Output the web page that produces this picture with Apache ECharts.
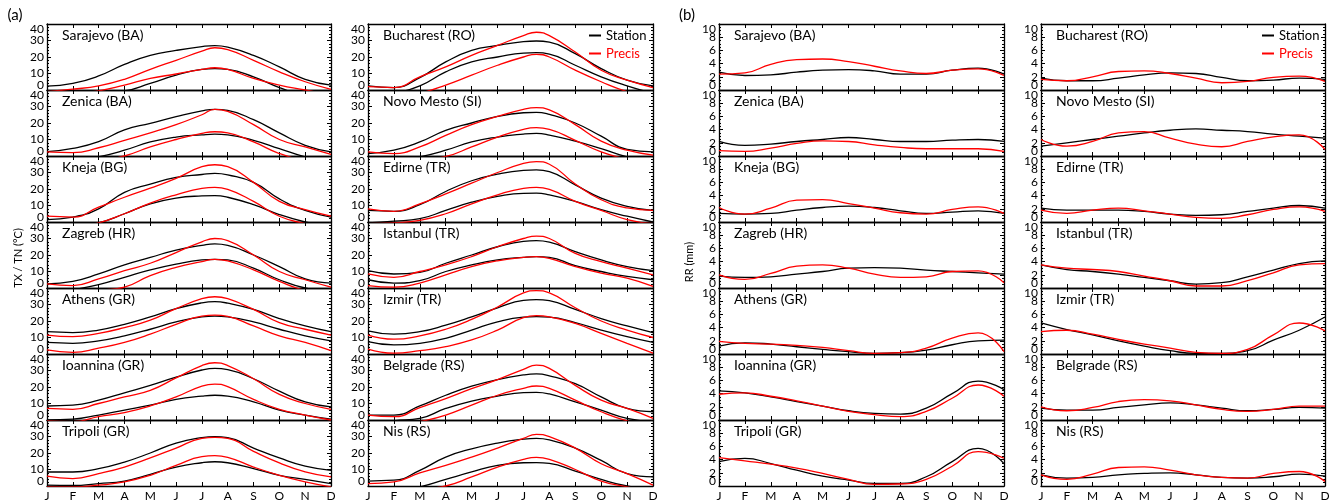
<!DOCTYPE html>
<html>
<head>
<meta charset="utf-8">
<script src="https://cdn.jsdelivr.net/npm/echarts@6/dist/echarts.min.js"></script>
<style>
html, body { margin: 0; padding: 0; background: #fff; }
#main { width: 1334px; height: 504px; }
</style>
</head>
<body>
<div id="main"></div>
<script>
const months = ['J', 'F', 'M', 'A', 'M', 'J', 'J', 'A', 'S', 'O', 'N', 'D'];
// temperature curves are read monthly plus the summer peak (late July)
const xTemp = [0, 1, 2, 3, 4, 5, 6, 6.5, 7, 8, 9, 10, 11];
const xRain = [0, 1, 2, 3, 4, 5, 6, 7, 8, 9, 10, 11];

// left column top->bottom, then right column top->bottom
const stations = ['Sarajevo (BA)', 'Zenica (BA)', 'Kneja (BG)', 'Zagreb (HR)', 'Athens (GR)', 'Ioannina (GR)', 'Tripoli (GR)',
  'Bucharest (RO)', 'Novo Mesto (SI)', 'Edirne (TR)', 'Istanbul (TR)', 'Izmir (TR)', 'Belgrade (RS)', 'Nis (RS)'];

// (a) max temperature, station
const txStation = [
  [2.4, 4, 8.5, 15.5, 21, 24, 26.3, 26.9, 26, 21, 14, 6.5, 3],
  [2.6, 4.6, 8.7, 15.8, 19.8, 23.8, 27.3, 28.3, 27.6, 22, 14, 6.5, 2.5],
  [1.5, 3, 8, 18, 23, 27, 28.8, 29.5, 28.6, 24, 14, 7, 3],
  [2.5, 4, 8.5, 14, 18.5, 23, 25.8, 26.7, 25.8, 20, 13, 5.5, 3],
  [13.5, 13, 14.5, 18, 22.5, 27.5, 31, 31.7, 30.8, 27, 21.5, 17, 13.5],
  [8.5, 9, 12, 16.5, 21, 26, 30.3, 31.3, 30.5, 25, 17.5, 11, 8],
  [8.5, 8.5, 10.5, 14.5, 20, 26, 29.3, 29.9, 29.3, 23, 17, 12, 9.5],
  [2.5, 1.5, 7.5, 17, 24, 27, 29.3, 29.7, 29, 22, 13, 6, 2.5],
  [1.5, 3.5, 8.5, 15.5, 20, 24, 26.2, 26.5, 25.2, 20, 12, 4, 2.5],
  [7, 6.5, 10.5, 18.5, 25, 29, 31.3, 31.6, 30.5, 22.5, 14.5, 9.5, 7],
  [10.5, 8.5, 9.5, 15, 20, 25, 28.3, 28.7, 27.8, 22, 17, 13, 10.5],
  [14, 12, 13.5, 17.5, 22.5, 28, 32.5, 33, 32.3, 27, 21.5, 17, 13],
  [3, 3, 8.5, 15, 20.5, 24.5, 27.3, 27.9, 26.8, 22, 14, 7, 5],
  [3, 3.5, 9.5, 17.5, 22.5, 26, 28.4, 28.9, 28, 23, 15.5, 7.5, 5.5]
];
// (a) max temperature, Precis
const txPrecis = [
  [-1, 0.5, 2.5, 6.5, 12.5, 18, 23.5, 25.6, 24.5, 18, 11, 5, 0.4],
  [2.5, 2, 5, 9.5, 14, 19, 25, 28.3, 27, 19, 10, 5.5, 1],
  [3.5, 3, 9, 15, 20.5, 26.5, 33.5, 34.7, 33.5, 24, 12.5, 7.5, 3.5],
  [2.5, 1.5, 5.5, 10.5, 15, 21.5, 28, 30, 28.7, 20, 10, 5, 0.5],
  [11.5, 10.5, 12.5, 16, 20.5, 27.5, 33.5, 34.7, 33.5, 27, 19, 15, 11.5],
  [7, 6.5, 10, 14, 18, 25.5, 33, 34.7, 33, 25, 15.5, 10, 6.5],
  [6, 4.5, 7.5, 11.5, 17, 23, 28.9, 29.5, 28.9, 21, 14, 8.5, 5.5],
  [2, 1.5, 8, 14, 21, 27, 33, 35, 33, 23, 12, 6, 1.5],
  [2.5, 1.5, 5.5, 12.5, 19, 24, 28.3, 29.3, 27.9, 19, 9, 3.5, 0.5],
  [8, 6.5, 11, 17, 23.5, 30, 35.5, 36.6, 35, 23, 13.5, 8.5, 7],
  [8.5, 6.5, 10, 14, 19, 25, 30, 31.5, 30, 21, 16, 12, 8],
  [11.5, 9, 11, 15, 21, 28.5, 37, 38.4, 37, 28, 20, 14.5, 10],
  [3, 2, 7.5, 13, 19, 24.5, 30.7, 33.3, 31.3, 21, 12, 7, 1],
  [1.5, 2.5, 8, 12.5, 17.5, 23, 28.9, 31.3, 29.9, 23, 13.5, 7.5, 0.5]
];
// (a) min temperature, station
const tnStation = [
  [-5, -4, -1.5, -0.5, 4, 9, 12.5, 13, 12.5, 8, 1.5, -3, -4],
  [-4, -3, -0.5, 3.5, 8.5, 11.5, 12.8, 13.2, 12.8, 9.5, 4.5, -0.5, -3],
  [-4, -3, -0.5, 5, 11, 14.5, 15.8, 16, 15, 10.5, 4.5, 0, -3],
  [-3, -1, 2, 6.5, 11, 14.5, 17, 17.4, 17, 12, 5, 0, -2],
  [7, 6.5, 8, 11, 15, 19.5, 22.5, 23, 22.5, 19.5, 15, 11, 8],
  [0, 0.5, 3, 6, 9, 12.5, 14.5, 15, 14.5, 11, 6, 3, 0.5],
  [0.5, 0.3, 1.5, 3, 7, 11.5, 14.1, 14.7, 14.1, 10.5, 6.5, 4, 1.5],
  [-4, -2, 2.5, 11, 17, 20, 22.4, 22.6, 21.8, 15, 8, 2.5, -2],
  [-5, -3, -0.5, 3.5, 8.5, 11.5, 13.3, 13.7, 12.7, 9, 4.5, -0.5, -3],
  [-0.5, 0.5, 2, 7, 12, 15.5, 17.4, 17.5, 16.4, 12.5, 7.5, 3.5, 0],
  [5, 3, 4.5, 10, 14, 17, 18.6, 19, 18.6, 13.5, 10, 7, 5],
  [7.5, 5.5, 6.5, 9.5, 14.5, 19.5, 22.3, 22.6, 22.3, 19, 14.5, 10.5, 7],
  [-3, -0.5, 1, 7, 11.5, 14.5, 16.6, 16.8, 15.8, 11, 6, 1, -1],
  [-4, -2.5, -0.5, 4, 8.5, 12.5, 14.1, 14.2, 13.7, 9, 4, 0, -2]
];
// (a) min temperature, Precis
const tnPrecis = [
  [-4, -2, -0.5, 3, 7, 9.7, 12.5, 13.5, 12.5, 7, 3, 0, -3],
  [-6, -5, -3, 0, 5.5, 10, 13.7, 14.7, 14, 8.5, 1.5, -3, -5],
  [-5, -3, -0.5, 5, 11.5, 16.5, 20.4, 21, 19.8, 12.5, 3.5, -1, -4],
  [-6, -4, -1.5, 0.5, 7.5, 12.5, 16, 17.4, 16.4, 11, 4, -1.5, -4],
  [2.5, 1, 3.5, 7, 12, 18, 23, 23.6, 22.8, 17, 11, 7, 2],
  [-0.5, -1, 2, 4.5, 8.5, 14, 20.6, 21.8, 20.2, 12.5, 6.5, 3, 0],
  [-0.5, -0.5, 0.5, 2.5, 6.5, 12.5, 17.8, 18.4, 17.4, 11.5, 6.5, 2.5, -0.5],
  [-7, -5, -2, 3, 9, 15, 20, 21.6, 20, 12, 5, -1, -5],
  [-7, -5, -2, -0.3, 5.5, 11.5, 16.2, 17.2, 16.2, 9.5, 2.5, -2, -5],
  [-1, -0.5, 1, 5, 11, 16.5, 20.4, 21, 19.8, 12.5, 7, 1.5, -1],
  [1.5, 0.5, 3, 8, 13, 16.5, 18.6, 19, 18, 13, 9, 6, 1],
  [3, 0.5, 2, 4.5, 8.5, 14.5, 22, 23.2, 22.5, 18.5, 12.5, 6.5, 0.5],
  [-6, -4, -1, 3, 9, 15, 19.2, 20.6, 19.2, 12, 5, -0.5, -4],
  [-7, -5, -2, 0, 5.5, 11.5, 16.2, 17.4, 16.2, 10, 3, -0.5, -4]
];
// (b) precipitation, station
const rrStation = [
  [2.7, 2.2, 2.3, 2.7, 3.0, 3.1, 2.9, 2.4, 2.4, 3.0, 3.3, 2.4],
  [2.2, 1.6, 1.8, 2.2, 2.5, 2.8, 2.5, 2.2, 2.2, 2.4, 2.5, 2.2],
  [1.3, 1.2, 1.3, 1.8, 2.2, 2.4, 2.2, 1.7, 1.3, 1.5, 1.7, 1.3],
  [1.8, 1.6, 1.7, 2.1, 2.5, 3.0, 3.1, 3.0, 2.7, 2.5, 2.3, 2.1],
  [1.2, 1.7, 1.5, 1.1, 0.7, 0.35, 0.1, 0.2, 0.6, 1.4, 2.0, 2.1],
  [4.4, 4.1, 3.5, 2.8, 2.1, 1.4, 1.0, 0.9, 1.8, 4.0, 5.9, 4.6],
  [3.7, 4.2, 3.4, 2.4, 1.5, 0.9, 0.4, 0.4, 1.4, 3.7, 5.7, 3.4],
  [1.8, 1.4, 1.4, 1.8, 2.3, 2.6, 2.5, 1.9, 1.4, 1.5, 1.8, 1.6],
  [1.5, 2.0, 2.5, 3.0, 3.5, 3.9, 4.1, 3.9, 3.7, 3.3, 3.0, 2.7],
  [2.1, 1.8, 1.8, 1.8, 1.6, 1.2, 1.0, 1.1, 1.6, 2.1, 2.5, 2.1],
  [3.5, 2.8, 2.5, 2.1, 1.6, 1.1, 0.6, 0.8, 1.7, 2.7, 3.7, 4.1],
  [4.7, 3.7, 2.9, 2.0, 1.2, 0.5, 0.1, 0.1, 0.5, 2.1, 3.6, 5.6],
  [1.8, 1.5, 1.5, 1.9, 2.3, 2.6, 2.3, 1.8, 1.4, 1.6, 1.9, 1.8],
  [1.7, 1.2, 1.3, 1.7, 1.9, 2.0, 1.7, 1.3, 1.2, 1.4, 1.8, 1.5]
];
// (b) precipitation, Precis
const rrPrecis = [
  [2.4, 2.6, 3.9, 4.6, 4.7, 4.3, 3.6, 2.9, 2.5, 3.0, 3.2, 2.2],
  [0.8, 0.7, 1.2, 1.9, 2.3, 2.2, 1.7, 1.3, 1.1, 1.1, 1.1, 0.7],
  [2.2, 1.2, 2.1, 3.3, 3.4, 2.8, 2.1, 1.4, 1.2, 1.9, 2.3, 1.3],
  [2.0, 1.3, 2.2, 3.3, 3.5, 3.0, 2.1, 1.6, 1.7, 2.5, 2.6, 0.8],
  [1.9, 1.6, 1.5, 1.3, 1.0, 0.5, 0.1, 0.2, 0.9, 2.4, 3.2, 0.35],
  [3.9, 4.1, 3.6, 2.9, 2.1, 1.3, 0.8, 0.5, 1.3, 3.3, 5.3, 3.6],
  [4.3, 3.8, 3.3, 2.7, 1.9, 1.0, 0.25, 0.3, 1.0, 3.0, 5.2, 4.2],
  [1.6, 1.4, 2.0, 2.8, 2.9, 2.5, 1.8, 1.1, 1.3, 1.9, 2.1, 1.3],
  [2.5, 1.5, 2.2, 3.5, 3.7, 2.7, 1.8, 1.4, 2.2, 2.9, 3.2, 1.0],
  [1.8, 1.3, 1.8, 2.1, 1.7, 1.2, 0.7, 0.55, 1.1, 1.9, 2.3, 1.6],
  [3.5, 3.0, 2.8, 2.5, 1.8, 1.1, 0.3, 0.3, 1.1, 2.3, 3.5, 3.7],
  [3.4, 3.6, 3.0, 2.2, 1.5, 0.9, 0.25, 0.1, 0.7, 2.9, 4.7, 3.5],
  [2.0, 1.4, 1.9, 2.8, 3.1, 2.9, 2.3, 1.6, 1.3, 1.6, 2.1, 2.1],
  [1.7, 1.0, 1.8, 2.8, 2.9, 2.4, 1.7, 1.3, 1.2, 1.9, 2.2, 0.7]
];

const FONT = 'Lato, "Noto Sans", sans-serif';
const RED = '#ff0000';
const rowTop = 24, rowH = 66;
const colLeftA = [47, 368], colWidthA = [284, 285];
const colLeftB = [719, 1041], colWidthB = [285, 284];

const grids = [], xAxes = [], yAxes = [], series = [], graphics = [];

function toPoints(xs, vals) {
  return vals.map((v, i) => [xs[i], v]);
}

function addPanel(left, width, row, yMax, yStep, minorSplit, title, lines) {
  const g = grids.length;
  const top = rowTop + row * rowH;
  grids.push({ left: left, top: top, width: width, height: rowH, outerBoundsMode: 'none' });
  const axLine = { show: true, onZero: false, lineStyle: { color: '#000', width: 1.3 } };
  const xBase = {
    gridIndex: g, type: 'value', min: 0, max: 11, interval: 1,
    axisLine: axLine,
    axisTick: { show: true, inside: true, length: 4, lineStyle: { color: '#000', width: 1 } },
    splitLine: { show: false }
  };
  xAxes.push(Object.assign({}, xBase, {
    position: 'bottom',
    axisLabel: {
      show: row === 6, showMinLabel: true, showMaxLabel: true,
      formatter: v => months[v], color: '#000', fontSize: 12, fontFamily: FONT, margin: 4
    }
  }));
  xAxes.push(Object.assign({}, xBase, { position: 'top', axisLabel: { show: false } }));
  const yBase = {
    gridIndex: g, type: 'value', min: 0, max: yMax, interval: yStep,
    axisLine: axLine,
    axisTick: { show: true, inside: true, length: 4, lineStyle: { color: '#000', width: 1 } },
    minorTick: { show: true, splitNumber: minorSplit, length: 2, lineStyle: { color: '#000', width: 1 } },
    splitLine: { show: false }, minorSplitLine: { show: false }
  };
  const labelStyle = { color: '#000', fontSize: 12, fontFamily: FONT, margin: 3 };
  // inner tick labels
  yAxes.push(Object.assign({}, yBase, {
    position: 'left',
    axisLabel: Object.assign({ showMinLabel: false, showMaxLabel: false }, labelStyle)
  }));
  yAxes.push(Object.assign({}, yBase, { position: 'right', axisLabel: { show: false } }));
  // min / max labels pulled inside the panel edges
  yAxes.push({
    gridIndex: g, type: 'value', min: 0, max: yMax, interval: yStep, position: 'left',
    axisLine: { show: false, onZero: false }, axisTick: { show: false }, splitLine: { show: false },
    axisLabel: Object.assign({
      showMinLabel: true, showMaxLabel: true, lineHeight: 10,
      verticalAlignMinLabel: 'bottom', verticalAlignMaxLabel: 'top',
      formatter: v => (v === 0 || v === yMax) ? String(v) : ''
    }, labelStyle)
  });
  lines.forEach(l => {
    series.push({
      type: 'line', name: l.name, xAxisIndex: 2 * g, yAxisIndex: 3 * g,
      data: toPoints(l.xs, l.data), smooth: true, showSymbol: false, clip: true, silent: true,
      lineStyle: { color: l.color, width: 1.3 }, itemStyle: { color: l.color }
    });
  });
  graphics.push({
    type: 'text', x: left + 15, y: top + 11,
    style: { text: title, font: '14px ' + FONT, fill: '#000', textVerticalAlign: 'middle' }
  });
}

stations.forEach((name, i) => {
  const col = Math.floor(i / 7), row = i % 7;
  addPanel(colLeftA[col], colWidthA[col], row, 40, 10, 5, name, [
    { name: 'Station', color: '#000', xs: xTemp, data: txStation[i] },
    { name: 'Station', color: '#000', xs: xTemp, data: tnStation[i] },
    { name: 'Precis', color: RED, xs: xTemp, data: txPrecis[i] },
    { name: 'Precis', color: RED, xs: xTemp, data: tnPrecis[i] }
  ]);
});
stations.forEach((name, i) => {
  const col = Math.floor(i / 7), row = i % 7;
  addPanel(colLeftB[col], colWidthB[col], row, 10, 2, 4, name, [
    { name: 'Station', color: '#000', xs: xRain, data: rrStation[i] },
    { name: 'Precis', color: RED, xs: xRain, data: rrPrecis[i] }
  ]);
});

graphics.push(
  { type: 'text', x: 15, y: 15, style: { text: '(a)', font: '15px ' + FONT, fill: '#000', textAlign: 'center', textVerticalAlign: 'middle' } },
  { type: 'text', x: 687, y: 15, style: { text: '(b)', font: '15px ' + FONT, fill: '#000', textAlign: 'center', textVerticalAlign: 'middle' } },
  { type: 'text', x: 18, y: 258, rotation: Math.PI / 2, style: { text: 'TX / TN (°C)', font: '11px ' + FONT, fill: '#000', textAlign: 'center', textVerticalAlign: 'middle' } },
  { type: 'text', x: 689, y: 262, rotation: Math.PI / 2, style: { text: 'RR (mm)', font: '11px ' + FONT, fill: '#000', textAlign: 'center', textVerticalAlign: 'middle' } }
);

function legendAt(left) {
  return {
    left: left, top: 29, orient: 'vertical', icon: 'rect', itemWidth: 12, itemHeight: 2,
    itemGap: 5, padding: 0, selectedMode: false,
    textStyle: { fontSize: 13, fontFamily: FONT },
    data: [{ name: 'Station', textStyle: { color: '#000' } }, { name: 'Precis', textStyle: { color: RED } }]
  };
}

const chart = echarts.init(document.getElementById('main'));
chart.setOption({
  backgroundColor: '#fff',
  animation: false,
  legend: [legendAt(589), legendAt(1262)],
  grid: grids,
  xAxis: xAxes,
  yAxis: yAxes,
  series: series,
  graphic: graphics
});
</script>
</body>
</html>
